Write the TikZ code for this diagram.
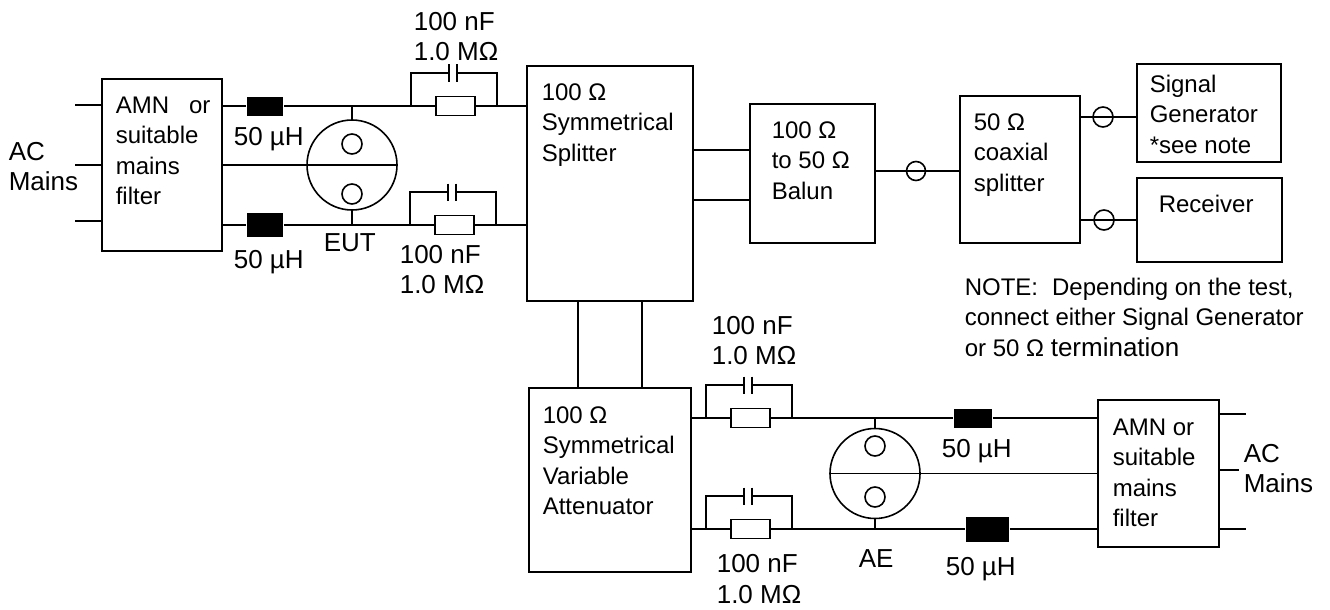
\documentclass[tikz,border=0pt]{standalone}
\usepackage{fontspec}
\setmainfont{Liberation Sans}
\usetikzlibrary{positioning}

\tikzset{
  blk/.style={draw, inner sep=0pt},
  txt/.style={inner sep=0pt, align=left, anchor=base west, font={\fontsize{24}{30.5}\selectfont}},
  lbl/.style={inner sep=0pt, align=left, anchor=base west, font={\fontsize{26}{30.5}\selectfont}},
  choke/.style={fill=black, inner sep=0pt},
  res/.style={draw, fill=white, inner sep=0pt, minimum width=39pt, minimum height=19pt},
  ring/.style={draw, circle, inner sep=0pt, minimum size=20pt},
  plug/.style={draw, circle, inner sep=0pt, minimum size=90pt},
}

\begin{document}
\begin{tikzpicture}
        [x=1pt,y=-1pt,line width=1.6pt]
        \useasboundingbox (0,0) rectangle (1330,610);

        % blocks
        \node[blk, minimum width=120pt, minimum height=172pt] (amnL) at (162,165) {};
        \node[blk, minimum width=166pt, minimum height=235pt] (split) at (610,183.5) {};
        \node[blk, minimum width=125pt, minimum height=139pt] (balun) at (812.5,173.5) {};
        \node[blk, minimum width=120pt, minimum height=147pt] (coax) at (1020,169.5) {};
        \node[blk, minimum width=144pt, minimum height=98pt] (siggen) at (1209,113) {};
        \node[blk, minimum width=145pt, minimum height=84pt] (recv) at (1209.5,220) {};
        \node[blk, minimum width=162pt, minimum height=184pt] (atten) at (610,480) {};
        \node[blk, minimum width=121pt, minimum height=147pt] (amnR) at (1158.5,473.5) {};

        % texts (anchored at the baseline of their last line)
        \node[txt] at (115,204.5) {AMN\hspace{20pt}or\\suitable\\mains\\filter};
        \node[txt] at (541,161) {100 Ω\\Symmetrical\\Splitter};
        \node[txt] at (771,199) {100 Ω\\to 50 Ω\\Balun};
        \node[txt] at (973,191) {50 Ω\\coaxial\\splitter};
        \node[txt] at (1149,153) {Signal\\Generator\\*see note};
        \node[txt] at (1158,212) {Receiver};
        \node[txt] at (542,514.5) {100 Ω\\Symmetrical\\Variable\\Attenuator};
        \node[txt] at (1112,526.5) {AMN or\\suitable\\mains\\filter};
        \node[txt] at (964,356) {NOTE:\hspace{14pt}Depending on the test,\\connect either Signal Generator\\or 50 Ω {\fontsize{26}{30.5}\selectfont termination}};

        \node[lbl] at (8,190.5) {AC\\Mains};
        \node[lbl] at (1243,492.5) {AC\\Mains};

        % chokes
        \node[choke, minimum width=36pt, minimum height=19pt] (L1) at (265,106) {};
        \node[choke, minimum width=36pt, minimum height=24pt] (L2) at (265,225) {};
        \node[choke, minimum width=38pt, minimum height=19pt] (L3) at (973,418) {};
        \node[choke, minimum width=43pt, minimum height=25pt] (L4) at (987.5,529) {};
        \node[lbl] at (233,145) {50 µH};
        \node[lbl] at (233,268) {50 µH};
        \node[lbl] at (941,457) {50 µH};
        \node[lbl] at (945,575) {50 µH};

        % RC networks
        \foreach \n/\xl/\yw in {1/411/106, 2/410/225, 3/706/418, 4/706/529}
        {
          \node[res] (R\n) at (\xl+44.5,\yw) {};
          \draw (\xl,\yw) |- (\xl+38,\yw-33) (\xl+46,\yw-33) -| (\xl+86,\yw);
          \draw (\xl+38,\yw-41.5) -- ++(0,17) (\xl+46,\yw-41.5) -- ++(0,17);
        }
        \node[lbl] at (413,60.5) {100 nF\\1.0 MΩ};
        \node[lbl] at (399,293.5) {100 nF\\1.0 MΩ};
        \node[lbl] at (711,364.5) {100 nF\\1.0 MΩ};
        \node[lbl] at (716,603) {100 nF\\1.0 MΩ};

        % EUT and AE
        \node[plug] (eut) at (352,165) {};
        \node[ring] (eutA) at (352,144) {};
        \node[ring] (eutB) at (352,194) {};
        \node[lbl] at (323,251) {EUT};
        \node[plug] (ae) at (875,473.5) {};
        \node[ring] (aeA) at (875,446) {};
        \node[ring] (aeB) at (875,497) {};
        \node[lbl] at (858,567) {AE};

        % coax connectors
        \node[ring, minimum size=19pt] (J1) at (916,171) {};
        \node[ring] (J2) at (1103,117) {};
        \node[ring] (J3) at (1104,220) {};

        % mains stubs
        \draw (amnL.west |- 0,105) -- ++(-26,0);
        \draw (amnL.west) -- ++(-26,0);
        \draw (amnL.west |- 0,221) -- ++(-26,0);
        \draw (amnR.east |- 0,414) -- ++(26,0);
        \draw (amnR.east |- 0,470) -- ++(19,0);
        \draw (amnR.east |- 0,529) -- ++(26,0);

        % EUT side
        \draw (amnL.east |- L1) -- (L1) -- (R1);
        \draw (R1) -- (split.west |- R1);
        \draw (amnL.east |- L2) -- (L2) -- (R2);
        \draw (R2) -- (split.west |- R2);
        \draw (amnL.east) -- (eut.east);
        \draw (eut.north) -- (eut.north |- L1);
        \draw (eut.south) -- (eut.south |- L2);

        % splitter, balun, coax
        \draw (split.east |- 0,150) -- (balun.west |- 0,150);
        \draw (split.east |- 0,200) -- (balun.west |- 0,200);
        \draw (balun.east |- J1) -- (coax.west |- J1);
        \draw (coax.east |- J2) -- (siggen.west |- J2);
        \draw (coax.east |- J3) -- (recv.west |- J3);
        \draw (split.south -| 578,0) -- (atten.north -| 578,0);
        \draw (split.south -| 642,0) -- (atten.north -| 642,0);

        % AE side
        \draw (atten.east |- R3) -- (R3);
        \draw (R3) -- (L3) -- (amnR.west |- L3);
        \draw (atten.east |- R4) -- (R4);
        \draw (R4) -- (L4) -- (amnR.west |- L4);
        \draw (ae.west) -- (amnR.west);
        \draw (ae.north) -- (ae.north |- L3);
        \draw (ae.south) -- (ae.south |- L4);
      \end{tikzpicture}
\end{document}
